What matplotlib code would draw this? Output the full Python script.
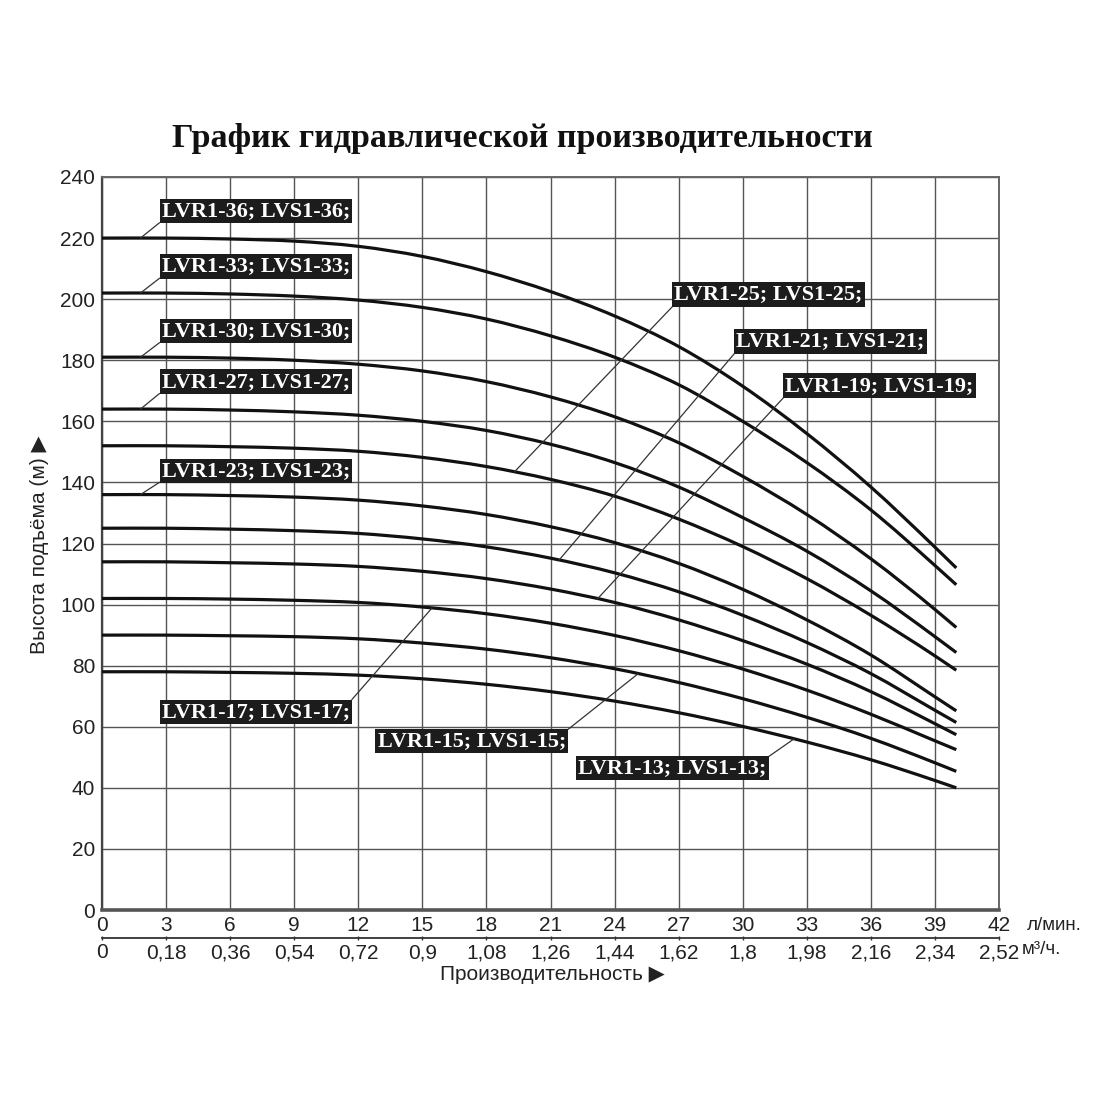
import matplotlib
matplotlib.use("Agg")
import matplotlib.pyplot as plt
from matplotlib.path import Path
from matplotlib.patches import PathPatch
import numpy as np

# Расход, л/мин
FLOW = [0, 3, 6, 9, 12, 15, 18, 21, 24, 27, 30, 33, 36, 39, 40]

# Напор, м (по моделям, число ступеней -> кривая)
HEAD = {
    36: [220, 220, 219.7, 219, 217.3, 214, 209, 202.5, 194.5, 184.5, 171.5, 156, 138.5, 118.8, 112],
    33: [202, 202, 201.7, 201, 199.7, 197.3, 193.5, 188, 181, 172, 160, 146.5, 131, 112.8, 106.5],
    30: [181, 181, 180.7, 180, 178.7, 176.5, 173, 168, 161.5, 153, 142, 129.5, 115, 98.4, 92.5],
    27: [164, 164, 163.7, 163.1, 162, 160, 157, 152.5, 146.5, 138.5, 128.5, 117.5, 104.5, 89.5, 84.3],
    25: [152, 152, 151.7, 151.2, 150.2, 148.2, 145.2, 141, 135.5, 128, 119, 108.5, 96.5, 83.2, 78.5],
    23: [136, 136, 135.7, 135.2, 134.2, 132.3, 129.5, 125.5, 120.3, 113.5, 105, 95, 83.5, 69.8, 65.2],
    21: [125, 125, 124.7, 124.2, 123.3, 121.5, 118.9, 115.2, 110.4, 104.2, 96.5, 87.6, 77.4, 65.4, 61.4],
    19: [114, 114, 113.7, 113.3, 112.5, 110.9, 108.5, 105.1, 100.7, 95, 88.2, 80.5, 71.5, 61, 57.4],
    17: [102, 102, 101.8, 101.4, 100.7, 99.2, 97, 93.9, 89.9, 84.9, 78.9, 72, 64.1, 55.4, 52.5],
    15: [90, 90, 89.8, 89.5, 88.8, 87.4, 85.4, 82.6, 79, 74.5, 69.2, 63.1, 56.2, 48.2, 45.4],
    13: [78, 78, 77.8, 77.5, 76.9, 75.7, 73.9, 71.5, 68.4, 64.6, 60.1, 55, 49.2, 42.4, 40],
}

X_TICKS = list(range(0, 43, 3))
Y_TICKS = list(range(0, 241, 20))
M3H_TICKS = [0, 0.18, 0.36, 0.54, 0.72, 0.9, 1.08, 1.26, 1.44, 1.62, 1.8, 1.98, 2.16, 2.34, 2.52]

# подписи: ступени -> (x точки на кривой, x подписи, y подписи, угол привязки)
LABELS = [
    (36, 1.8, 2.8, 228.9, (0, 0)),
    (33, 1.8, 2.8, 210.7, (0, 0)),
    (30, 1.8, 2.8, 189.6, (0, 0)),
    (27, 1.8, 2.8, 173.0, (0, 0)),
    (23, 1.8, 2.8, 143.8, (0, 0)),
    (25, 19.3, 26.8, 201.5, (0, 0)),
    (21, 21.4, 29.7, 186.2, (0, 0)),
    (19, 23.2, 32.0, 171.7, (0, 0)),
    (17, 15.45, 2.8, 64.9, (1, 1)),
    (15, 25.1, 12.9, 55.3, (1, 1)),
    (13, 32.4, 22.3, 46.5, (1, 1)),
]

SANS = ["Liberation Sans", "DejaVu Sans"]
SERIF = ["Liberation Serif", "DejaVu Serif"]


def smooth_path(x, y):
    # кубическая кривая Эрмита через точки (гладкая линия как в оригинале)
    x = np.asarray(x, float)
    y = np.asarray(y, float)
    m = np.gradient(y, x)
    m[0] = 0.0
    verts = [(x[0], y[0])]
    codes = [Path.MOVETO]
    for i in range(len(x) - 1):
        h = x[i + 1] - x[i]
        verts += [(x[i] + h / 3, y[i] + m[i] * h / 3),
                  (x[i + 1] - h / 3, y[i + 1] - m[i + 1] * h / 3),
                  (x[i + 1], y[i + 1])]
        codes += [Path.CURVE4] * 3
    return Path(verts, codes)


W = 1100
fig = plt.figure(figsize=(11, 11), dpi=100)
fig.patch.set_facecolor("white")
ax = fig.add_axes([102 / W, 1 - 910 / W, 897 / W, 733 / W])

ax.set_xlim(0, 42)
ax.set_ylim(0, 240)
ax.set_xticks(X_TICKS)
ax.set_yticks(Y_TICKS)
ax.set_xticklabels([str(v) for v in X_TICKS], family=SANS, fontsize=15, color="#222")
ax.set_yticklabels([str(v) for v in Y_TICKS], family=SANS, fontsize=15, color="#222")
ax.tick_params(axis="both", length=0)
ax.tick_params(axis="x", pad=4.5)
ax.tick_params(axis="y", pad=5)
ax.grid(True, color="#555", linewidth=1.0)
ax.set_axisbelow(True)

for side in ["top", "right"]:
    ax.spines[side].set_color("#666")
    ax.spines[side].set_linewidth(1.4)
ax.spines["left"].set_color("#444")
ax.spines["left"].set_linewidth(1.6)
ax.spines["bottom"].set_color("#555")
ax.spines["bottom"].set_linewidth(2.6)

# кривые
for stages, head in HEAD.items():
    ax.add_patch(PathPatch(smooth_path(FLOW, head), fill=False, edgecolor="#111",
                           linewidth=2.3, capstyle="butt", zorder=3))

# подписи моделей
for stages, xc, tx, ty, rel in LABELS:
    yc = np.interp(xc, FLOW, HEAD[stages])
    ax.annotate(f"LVR1-{stages}; LVS1-{stages};", xy=(xc, yc), xytext=(tx, ty),
                textcoords="data", ha="left", va="center",
                family=SERIF, fontsize=16, fontweight="bold", color="white",
                bbox=dict(boxstyle="square,pad=0.1", fc="#1c1c1c", ec="none"),
                arrowprops=dict(arrowstyle="-", color="#333", lw=0.9,
                                shrinkA=0, shrinkB=0, relpos=rel),
                zorder=5)

# вторая шкала, м³/ч
sec = ax.secondary_xaxis(-27.7 / 733, functions=(lambda q: q * 0.06, lambda q: q / 0.06))
sec.set_xticks(M3H_TICKS)
sec.set_xticklabels([f"{v:g}".replace(".", ",") for v in M3H_TICKS],
                    family=SANS, fontsize=15, color="#222")
sec.tick_params(length=3, width=1, direction="inout", pad=2.5, color="#333")
sec.spines["bottom"].set_color("#333")
sec.spines["bottom"].set_linewidth(1.3)

fig.text(1027 / W, 1 - 925 / W, "л/мин.", family=SANS, fontsize=13.5,
         color="#222", ha="left", va="center")
fig.text(1022 / W, 1 - 950 / W, "м³/ч.", family=SANS, fontsize=13.5,
         color="#222", ha="left", va="center")
fig.text(552 / W, 1 - 974 / W, "Производительность ▶", family=SANS, fontsize=15,
         color="#222", ha="center", va="center")
fig.text(40 / W, 1 - 545 / W, "Высота подъёма (м) ▶", family=SANS, fontsize=15,
         color="#222", ha="center", va="center", rotation=90)

fig.text(522 / W, 1 - 138 / W, "График гидравлической производительности",
         family=SERIF, fontsize=24.5, fontweight="bold", color="#111",
         ha="center", va="center")

fig.savefig("out.png", dpi=100, facecolor="white")
